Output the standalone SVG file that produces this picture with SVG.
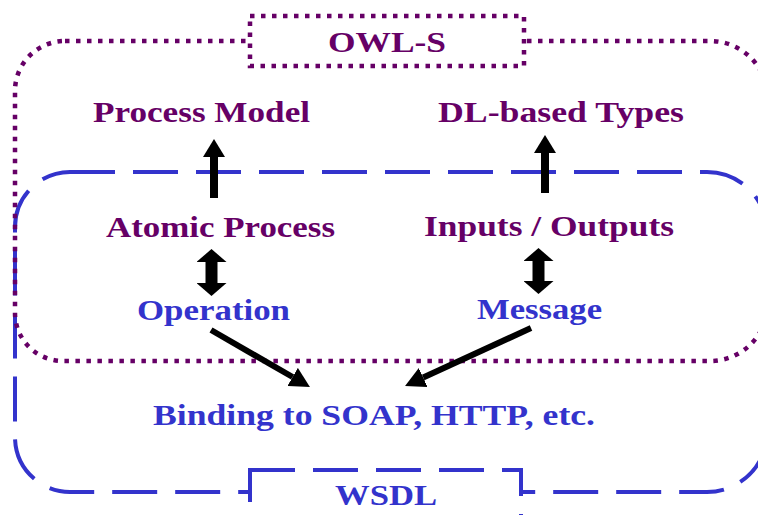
<svg xmlns="http://www.w3.org/2000/svg" width="758" height="515" viewBox="0 0 758 515">
<style>
.owl{fill:none;stroke:#660066;stroke-width:4.5;stroke-dasharray:4.5 6.5}
.wsdl{fill:none;stroke:#3333CC;stroke-width:4;stroke-dasharray:45 18}
.box{fill:#fff}
text{font-family:"Liberation Serif","Times New Roman",serif;font-weight:bold;font-size:29px;text-anchor:middle}
.p{fill:#660066}
.b{fill:#3333CC}
.c{stroke:#000;fill:none}
</style>
<defs>
<marker id="ah" markerUnits="userSpaceOnUse" markerWidth="18" markerHeight="22" viewBox="0 0 18 22" refX="0" refY="11" orient="auto-start-reverse"><path d="M0,0 L18,11 L0,22 Z" fill="#000"/></marker>
<marker id="dh" markerUnits="userSpaceOnUse" markerWidth="13" markerHeight="30" viewBox="0 0 13 30" refX="0" refY="15" orient="auto-start-reverse"><path d="M0,0 L13,15 L0,30 Z" fill="#000"/></marker>
<marker id="sh" markerUnits="userSpaceOnUse" markerWidth="20" markerHeight="21" viewBox="0 0 20 21" refX="0" refY="10.5" orient="auto"><path d="M0,0 L20,10.5 L0,21 Z" fill="#000"/></marker>
</defs>
<g id="wsdl-region">
<path class="wsdl" d="M70,172 H707 A60,60 0 0 1 767,232 V432 A60,60 0 0 1 707,492 H70 A55,55 0 0 1 15,437 V227 A55,55 0 0 1 70,172 Z"/>
</g>
<g id="owls-region">
<path class="owl" d="M65,41 H710 A58,58 0 0 1 768,99 V303 A58,58 0 0 1 710,361 H63 A48,48 0 0 1 15,313 V91 A50,50 0 0 1 65,41 Z"/>
</g>
<g id="owls-label">
<rect class="box owl" x="250" y="16" width="274" height="50" style="fill:#fff"/>
<text class="p" x="387" y="52" textLength="118" lengthAdjust="spacingAndGlyphs">OWL-S</text>
</g>
<g id="wsdl-label">
<rect class="box wsdl" x="250" y="470" width="271" height="60" style="fill:#fff"/>
<text class="b" x="386" y="505" textLength="102" lengthAdjust="spacingAndGlyphs">WSDL</text>
</g>
<g id="process-model"><text class="p" x="201.5" y="122" textLength="217" lengthAdjust="spacingAndGlyphs">Process Model</text></g>
<g id="dl-types"><text class="p" x="561" y="122" textLength="246" lengthAdjust="spacingAndGlyphs">DL-based Types</text></g>
<g id="atomic-process"><text class="p" x="220.5" y="236.5" textLength="229" lengthAdjust="spacingAndGlyphs">Atomic Process</text></g>
<g id="inputs-outputs"><text class="p" x="549" y="235.5" textLength="250" lengthAdjust="spacingAndGlyphs">Inputs / Outputs</text></g>
<g id="operation"><text class="b" x="213.5" y="320" textLength="153" lengthAdjust="spacingAndGlyphs">Operation</text></g>
<g id="message"><text class="b" x="539.5" y="319" textLength="125" lengthAdjust="spacingAndGlyphs">Message</text></g>
<g id="binding"><text class="b" x="374" y="425" textLength="442" lengthAdjust="spacingAndGlyphs">Binding to SOAP, HTTP, etc.</text></g>
<g id="connectors">
<line class="c" x1="214" y1="198" x2="214" y2="157" stroke-width="8" marker-end="url(#ah)"/>
<line class="c" x1="545" y1="193" x2="545" y2="153" stroke-width="8" marker-end="url(#ah)"/>
<line class="c" x1="211.5" y1="262" x2="211.5" y2="283" stroke-width="12" marker-start="url(#dh)" marker-end="url(#dh)"/>
<line class="c" x1="538.5" y1="261" x2="538.5" y2="281" stroke-width="12" marker-start="url(#dh)" marker-end="url(#dh)"/>
<line class="c" x1="211" y1="330" x2="292.6" y2="377" stroke-width="6" marker-end="url(#sh)"/>
<line class="c" x1="531" y1="328" x2="423.2" y2="377.6" stroke-width="6" marker-end="url(#sh)"/>
</g>
</svg>
